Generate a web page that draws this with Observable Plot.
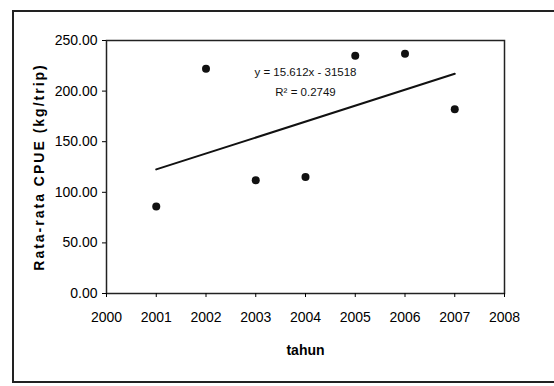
<!DOCTYPE html>
<html>
<head>
<meta charset="utf-8">
<script src="https://cdn.jsdelivr.net/npm/d3@7"></script>
<script src="https://cdn.jsdelivr.net/npm/@observablehq/plot@0.6"></script>
<style>
  html, body { margin: 0; padding: 0; background: #fff; }
  #wrap { position: relative; width: 554px; height: 386px; overflow: hidden; }
  #border { position: absolute; left: 12px; top: 10px; width: 560px; height: 373px; border: 2px solid #222; box-sizing: border-box; }
  #chart { position: absolute; left: 0; top: 0; }
  #chart svg [aria-label="y-axis label"] text { font-weight: bold; letter-spacing: 2px; }
  #chart svg [aria-label="x-axis label"] text { font-weight: bold; }
</style>
</head>
<body>
<div id="wrap">
  <div id="border"></div>
  <div id="chart"></div>
</div>
<script>
const years = [2001, 2002, 2003, 2004, 2005, 2006, 2007];
const cpue = [86, 222, 112, 115, 235, 237, 182];
const xTicks = [2000, 2001, 2002, 2003, 2004, 2005, 2006, 2007, 2008];
const yTicks = [0, 50, 100, 150, 200, 250];
const eqLines = ["y = 15.612x - 31518", "R² = 0.2749"];
const eqX = [2004.0, 2004.0];
const eqY = [219, 199];

const data = years.map((y, i) => ({year: y, value: cpue[i]}));
const eqData = eqLines.map((t, i) => ({text: t, x: eqX[i], y: eqY[i]}));

const chart = Plot.plot({
  width: 554,
  height: 386,
  marginLeft: 106,
  marginRight: 50,
  marginTop: 40,
  marginBottom: 93,
  style: {fontFamily: "Liberation Sans, Arial, sans-serif", fontSize: "14px", color: "#000", background: "transparent"},
  x: {domain: [2000, 2008]},
  y: {domain: [0, 250]},
  marks: [
    Plot.frame({stroke: "#222", strokeWidth: 1.5}),
    Plot.axisX({ticks: xTicks, tickFormat: d => String(d), tickSize: 4, tickPadding: 15, label: "tahun", labelAnchor: "center", labelOffset: 61, labelArrow: "none", fontSize: 14}),
    Plot.axisY({ticks: yTicks, tickFormat: d => d.toFixed(2), tickSize: 4, tickPadding: 5, label: "Rata-rata CPUE (kg/trip)", labelAnchor: "center", labelOffset: 72, labelArrow: "none", fontSize: 14}),
    Plot.linearRegressionY(data, {x: "year", y: "value", ci: 0, stroke: "#111", strokeWidth: 2}),
    Plot.dot(data, {x: "year", y: "value", r: 4, fill: "#111", stroke: "none"}),
    Plot.text(eqData, {x: "x", y: "y", text: "text", fontSize: 11.5, fill: "#111"})
  ]
});
document.getElementById("chart").appendChild(chart);
</script>
</body>
</html>
